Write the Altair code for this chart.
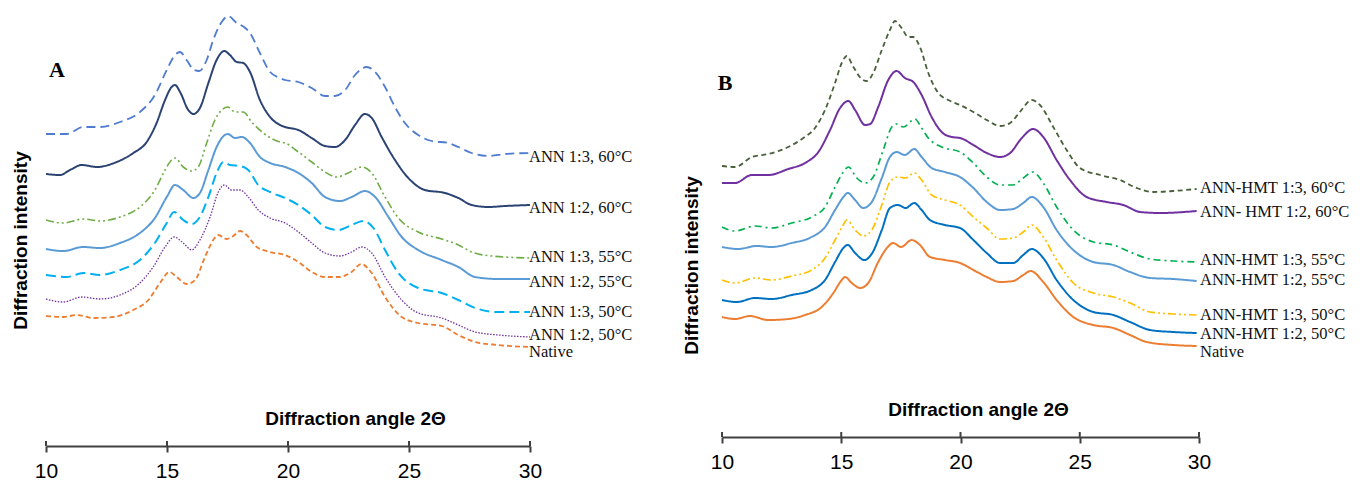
import altair as alt
import pandas as pd

# ---------------- shared ----------------
x_ticks = [10, 15, 20, 25, 30]

# ---------------- Panel A : ANN ----------------
labels_A = ["ANN 1:3, 60°C", "ANN 1:2, 60°C", "ANN 1:3, 55°C", "ANN 1:2, 55°C",
            "ANN 1:3, 50°C", "ANN 1:2, 50°C", "Native"]
label_y_A = [289, 238, 189, 164, 134, 111, 94]

a_13_60 = [[10.00, 312], [10.86, 312], [11.54, 319], [12.23, 319], [13.06, 324], [13.88, 334],
           [14.50, 351], [14.99, 376], [15.33, 391], [15.54, 394], [15.81, 386], [16.12, 376],
           [16.33, 375], [16.64, 386], [16.91, 406], [17.26, 424], [17.53, 430], [17.88, 423],
           [18.18, 419], [18.43, 413], [18.84, 393], [19.26, 374], [19.67, 368], [19.88, 366],
           [20.43, 364], [20.98, 358], [21.53, 350], [21.94, 350], [22.36, 356], [22.77, 371],
           [23.25, 379], [23.60, 374], [24.01, 359], [24.42, 339], [24.83, 323], [25.38, 311],
           [25.94, 305], [26.62, 303], [27.04, 299], [27.59, 293], [28.28, 290], [28.97, 292],
           [30.00, 293]]
a_12_60 = [[10.00, 272], [10.58, 271], [10.99, 276], [11.48, 281], [12.10, 279], [12.92, 284],
           [13.61, 293], [14.16, 304], [14.57, 323], [14.92, 346], [15.19, 359], [15.33, 361],
           [15.54, 354], [15.88, 336], [16.09, 332], [16.36, 338], [16.71, 363], [17.05, 386],
           [17.37, 395], [17.60, 391], [17.88, 384], [18.15, 383], [18.43, 374], [18.84, 346],
           [19.26, 329], [19.67, 321], [19.88, 319], [20.43, 316], [20.98, 308], [21.53, 300],
           [21.94, 299], [22.36, 306], [22.77, 321], [23.18, 332], [23.46, 328], [23.87, 309],
           [24.42, 286], [24.97, 268], [25.66, 256], [26.49, 253], [27.04, 248], [27.59, 241],
           [28.28, 239], [28.97, 240], [30.00, 241]]
a_13_55 = [[10.00, 226], [10.71, 223], [11.54, 227], [12.23, 225], [13.06, 229], [13.88, 239],
           [14.50, 256], [14.92, 276], [15.19, 286], [15.33, 288], [15.67, 279], [16.02, 275],
           [16.29, 279], [16.64, 303], [16.98, 326], [17.26, 336], [17.51, 339], [17.81, 334],
           [18.15, 334], [18.50, 324], [18.98, 313], [19.67, 304], [19.88, 303], [20.43, 294],
           [20.98, 284], [21.53, 274], [22.01, 269], [22.49, 273], [23.05, 279], [23.46, 273],
           [24.01, 249], [24.56, 228], [25.38, 214], [26.35, 207], [27.04, 201], [27.59, 194],
           [28.42, 190], [30.00, 188]]
a_12_55 = [[10.00, 197], [10.71, 195], [11.54, 199], [12.23, 198], [13.06, 203], [13.88, 213],
           [14.50, 228], [14.99, 249], [15.33, 261], [15.67, 256], [16.09, 248], [16.36, 253],
           [16.71, 276], [17.05, 299], [17.51, 312], [17.81, 308], [18.09, 309], [18.43, 303],
           [18.84, 289], [19.26, 283], [19.88, 279], [20.43, 273], [20.98, 263], [21.53, 249],
           [22.15, 245], [22.63, 249], [23.18, 255], [23.60, 249], [24.15, 229], [24.70, 209],
           [25.38, 196], [26.35, 186], [27.04, 179], [27.73, 169], [28.69, 167], [30.00, 167]]
a_13_50 = [[10.00, 171], [10.86, 169], [11.54, 173], [12.23, 171], [13.06, 176], [13.88, 186],
           [14.50, 203], [14.99, 223], [15.29, 234], [15.67, 226], [16.02, 222], [16.33, 228],
           [16.71, 249], [17.05, 273], [17.33, 284], [17.60, 281], [18.02, 280], [18.36, 276],
           [18.77, 261], [19.26, 254], [19.88, 248], [20.43, 241], [20.98, 231], [21.53, 219],
           [22.08, 216], [22.63, 221], [23.11, 225], [23.53, 218], [24.01, 196], [24.56, 173],
           [25.38, 158], [26.35, 153], [27.04, 146], [27.73, 138], [28.69, 134], [30.00, 134]]
a_12_50 = [[10.00, 147], [10.71, 144], [11.48, 149], [12.23, 147], [13.06, 151], [13.88, 163],
           [14.43, 179], [14.92, 199], [15.29, 209], [15.67, 203], [16.02, 196], [16.36, 206],
           [16.78, 229], [17.12, 254], [17.37, 261], [17.67, 256], [18.02, 256], [18.36, 249],
           [18.77, 236], [19.26, 228], [19.88, 223], [20.43, 214], [20.98, 203], [21.53, 193],
           [22.15, 190], [22.63, 194], [23.05, 199], [23.46, 193], [24.01, 169], [24.70, 146],
           [25.38, 133], [26.35, 128], [27.04, 121], [27.73, 114], [28.69, 111], [30.00, 109]]
a_native = [[10.00, 130], [10.71, 129], [11.27, 131], [11.95, 128], [12.78, 129], [13.61, 136],
            [14.23, 146], [14.71, 163], [15.10, 174], [15.40, 169], [15.81, 162], [16.16, 166],
            [16.57, 189], [16.91, 206], [17.12, 211], [17.47, 207], [17.74, 210], [18.02, 215],
            [18.29, 211], [18.71, 199], [19.26, 194], [19.88, 191], [20.43, 184], [20.98, 174],
            [21.53, 169], [22.08, 169], [22.63, 174], [23.02, 182], [23.46, 173], [24.01, 149],
            [24.70, 129], [25.38, 123], [26.35, 120], [27.04, 111], [27.73, 104], [28.69, 101],
            [30.00, 99]]

# ---------------- Panel B : ANN-HMT ----------------
labels_B = ["ANN-HMT 1:3, 60°C", "ANN- HMT 1:2, 60°C", "ANN-HMT 1:3, 55°C",
            "ANN-HMT 1:2, 55°C", "ANN-HMT 1:3, 50°C", "ANN-HMT 1:2, 50°C", "Native"]
label_y_B = [249, 225, 177, 157, 122, 103, 85]

b_13_60 = [[10.00, 271], [10.55, 270], [11.25, 280], [11.94, 283], [12.78, 290], [13.41, 299],
           [13.90, 309], [14.32, 327], [14.74, 354], [15.02, 374], [15.23, 381], [15.51, 370],
           [15.86, 358], [16.07, 356], [16.34, 364], [16.70, 387], [17.04, 407], [17.25, 416],
           [17.53, 409], [17.81, 400], [18.02, 400], [18.30, 390], [18.65, 364], [19.07, 344],
           [19.49, 337], [19.98, 332], [20.54, 325], [21.10, 317], [21.66, 311], [22.08, 314],
           [22.49, 325], [22.99, 337], [23.33, 332], [23.89, 310], [24.45, 287], [25.01, 269],
           [25.85, 262], [26.69, 257], [27.39, 249], [28.09, 245], [28.92, 246], [29.90, 248]]
b_12_60 = [[10.00, 254], [10.55, 254], [11.25, 262], [11.94, 262], [12.78, 268], [13.48, 274],
           [14.04, 285], [14.53, 307], [14.95, 329], [15.30, 336], [15.58, 327], [16.00, 312],
           [16.21, 313], [16.55, 330], [16.97, 357], [17.32, 366], [17.67, 359], [18.02, 355],
           [18.37, 342], [18.79, 320], [19.21, 305], [19.63, 300], [19.98, 299], [20.54, 292],
           [21.10, 284], [21.66, 280], [22.08, 284], [22.57, 299], [23.05, 308], [23.47, 300],
           [24.03, 277], [24.59, 257], [25.29, 240], [26.13, 235], [26.83, 232], [27.53, 225],
           [28.37, 224], [29.90, 226]]
b_13_55 = [[10.00, 210], [10.55, 206], [11.38, 211], [12.08, 209], [12.92, 214], [13.76, 220],
           [14.32, 230], [14.74, 250], [15.09, 265], [15.30, 270], [15.65, 259], [16.00, 254],
           [16.34, 260], [16.76, 287], [17.12, 310], [17.32, 313], [17.60, 310], [18.09, 318],
           [18.37, 309], [18.65, 299], [19.21, 290], [19.98, 285], [20.54, 274], [21.10, 260],
           [21.66, 252], [22.21, 252], [22.63, 259], [23.03, 265], [23.47, 254], [24.03, 230],
           [24.73, 207], [25.57, 195], [26.41, 192], [27.11, 185], [27.95, 178], [28.92, 176],
           [29.90, 175]]
b_12_55 = [[10.00, 190], [10.68, 188], [11.45, 191], [12.08, 190], [12.92, 194], [13.76, 200],
           [14.32, 210], [14.74, 227], [15.09, 240], [15.27, 244], [15.58, 237], [15.92, 229],
           [16.28, 235], [16.70, 259], [17.04, 280], [17.32, 285], [17.67, 282], [18.06, 288],
           [18.37, 280], [18.79, 269], [19.35, 265], [19.98, 260], [20.54, 249], [21.10, 235],
           [21.66, 227], [22.21, 228], [22.63, 234], [22.99, 240], [23.47, 230], [24.03, 207],
           [24.73, 187], [25.57, 175], [26.41, 172], [27.11, 165], [27.95, 159], [28.92, 158],
           [29.90, 156]]
b_13_50 = [[10.00, 157], [10.55, 154], [11.38, 159], [12.08, 157], [12.92, 161], [13.76, 167],
           [14.32, 179], [14.74, 197], [15.06, 211], [15.23, 217], [15.58, 207], [15.92, 201],
           [16.28, 207], [16.70, 232], [17.04, 255], [17.37, 260], [17.70, 259], [18.06, 264],
           [18.37, 257], [18.79, 242], [19.35, 237], [19.98, 232], [20.54, 220], [21.10, 209],
           [21.66, 198], [22.21, 199], [22.63, 205], [22.99, 212], [23.47, 200], [24.03, 177],
           [24.73, 154], [25.57, 144], [26.41, 140], [27.11, 134], [27.95, 125], [28.92, 123],
           [29.90, 122]]
b_12_50 = [[10.00, 137], [10.62, 135], [11.38, 139], [12.08, 138], [12.92, 142], [13.76, 147],
           [14.32, 157], [14.74, 175], [15.09, 189], [15.27, 192], [15.58, 184], [15.97, 177],
           [16.30, 184], [16.70, 207], [17.04, 229], [17.37, 232], [17.70, 229], [18.06, 234],
           [18.37, 227], [18.72, 217], [19.35, 212], [19.98, 209], [20.54, 197], [21.10, 184],
           [21.66, 174], [22.21, 174], [22.63, 182], [22.99, 188], [23.47, 179], [24.03, 157],
           [24.73, 137], [25.57, 125], [26.41, 122], [27.11, 115], [27.95, 107], [28.92, 105],
           [29.90, 104]]
b_native = [[10.00, 120], [10.55, 118], [11.17, 121], [11.94, 117], [12.78, 118], [13.48, 122],
            [14.18, 130], [14.67, 144], [14.99, 156], [15.16, 160], [15.44, 154], [15.79, 149],
            [16.13, 154], [16.55, 175], [16.95, 190], [17.18, 194], [17.51, 190], [17.95, 197],
            [18.30, 192], [18.72, 180], [19.35, 177], [19.98, 174], [20.54, 167], [21.10, 160],
            [21.66, 155], [22.21, 156], [22.63, 162], [22.94, 166], [23.47, 155], [24.03, 137],
            [24.73, 120], [25.57, 112], [26.41, 109], [27.11, 102], [27.81, 95], [28.92, 92],
            [29.90, 91]]

# ---------------- styles ----------------
styles_A = [
    ("#4F7BD0", [9, 5], 1.8),
    ("#2B4373", [1, 0], 2.0),
    ("#70AD47", [8, 3, 2, 3, 2, 3], 1.6),
    ("#5B9BD5", [1, 0], 2.0),
    ("#00B0F0", [10, 5], 2.0),
    ("#7030A0", [1.5, 1.5], 1.3),
    ("#ED7D31", [5, 3], 1.8),
]
styles_B = [
    ("#48613A", [5, 3.5], 1.8),
    ("#7030A0", [1, 0], 2.0),
    ("#00B050", [7, 4, 2, 4], 1.7),
    ("#5B9BD5", [1, 0], 2.0),
    ("#FFC000", [8, 3, 2, 3, 2, 3], 1.7),
    ("#0070C0", [1, 0], 2.0),
    ("#ED7D31", [1, 0], 2.0),
]

SANS = "Liberation Sans"
SERIF = "Liberation Serif"
AX = "#404040"


def panel(curves, styles, labels, label_y, letter, letter_xy, width, height,
          xtitle_x, ytitle_y, ytitle_pad, label_dx):
    xaxis = alt.Axis(values=x_ticks, format="d", title="Diffraction angle 2Θ",
                     titleFont=SANS, titleFontSize=19, titleFontWeight="bold",
                     titleColor="#000", titleX=xtitle_x, titleY=-28,
                     titleBaseline="middle", titleAlign="center",
                     labelFont=SANS, labelFontSize=21, labelColor="#000",
                     labelPadding=8, labelFlush=False, tickSize=6, tickWidth=2,
                     tickColor=AX, domainColor=AX, domainWidth=2, grid=False)
    yaxis = alt.Axis(title="Diffraction intensity", titleFont=SANS, titleFontSize=19,
                     titleFontWeight="bold", titleColor="#000", titlePadding=ytitle_pad,
                     titleY=ytitle_y, labels=False, ticks=False, domain=False, grid=False)
    xenc = alt.X("x:Q", scale=alt.Scale(domain=[10, 30], nice=False, zero=False), axis=xaxis)
    yenc = alt.Y("y:Q", scale=alt.Scale(domain=[0, height], nice=False, zero=False), axis=yaxis)

    layers = []
    for pts, (col, dash, sw) in zip(curves, styles):
        df = pd.DataFrame(pts, columns=["x", "y"])
        layers.append(
            alt.Chart(df).mark_line(color=col, strokeDash=dash, strokeWidth=sw,
                                    interpolate="monotone")
            .encode(x=xenc, y=yenc)
        )
    # upper halves of the axis ticks
    tdf = pd.DataFrame({"x": x_ticks})
    layers.append(
        alt.Chart(tdf).mark_rule(color=AX, strokeWidth=2)
        .encode(x=xenc, y=alt.value(height - 5), y2=alt.value(height))
    )
    ldf = pd.DataFrame({"x": [30] * len(labels), "y": label_y, "t": labels})
    layers.append(
        alt.Chart(ldf).mark_text(align="left", baseline="middle", font=SERIF,
                                 fontSize=16.5, color="#111", dx=label_dx)
        .encode(x=xenc, y=yenc, text="t:N")
    )
    pdf = pd.DataFrame({"x": [letter_xy[0]], "y": [letter_xy[1]], "t": [letter]})
    layers.append(
        alt.Chart(pdf).mark_text(align="center", baseline="middle", font=SERIF,
                                 fontSize=22, fontWeight="bold", color="#000")
        .encode(x=xenc, y=yenc, text="t:N")
    )
    return alt.layer(*layers).properties(width=width, height=height)


pA = panel([a_13_60, a_12_60, a_13_55, a_12_55, a_13_50, a_12_50, a_native], styles_A,
           labels_A, label_y_A, "A", (10.45, 376), 484, 438, 309, 232, 16, -1)
pB = panel([b_13_60, b_12_60, b_13_55, b_12_55, b_13_50, b_12_50, b_native], styles_B,
           labels_B, label_y_B, "B", (10.13, 354), 477, 429, 256, 257, 21, 1)

chart = (
    alt.hconcat(pA, pB, spacing=192, bounds="flush")
    .properties(padding={"left": 3, "top": 0, "right": 0, "bottom": 0})
    .configure_view(stroke=None)
)

chart.save("out.html", embed_options={"renderer": "svg", "actions": False})
